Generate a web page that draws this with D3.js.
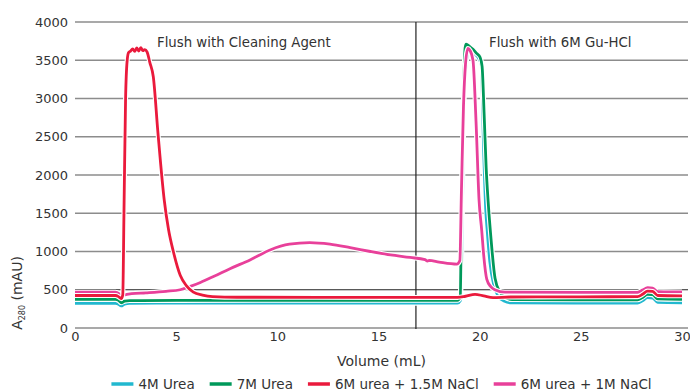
<!DOCTYPE html>
<html>
<head>
<meta charset="utf-8">
<script src="https://cdn.jsdelivr.net/npm/d3@7"></script>
<style>
  body { margin: 0; background: #fff; }
  text { font-family: "DejaVu Sans", Verdana, sans-serif; fill: #333; }
</style>
</head>
<body>
<div id="canvas"></div>
<script>
// ticks
const volumeTicks = [0, 5, 10, 15, 20, 25, 30];
const absTicks = [0, 500, 1000, 1500, 2000, 2500, 3000, 3500, 4000];

const seriesNames = ["4M Urea", "7M Urea", "6M urea + 1.5M NaCl", "6M urea + 1M NaCl"];
const seriesColors = ["#22b8cf", "#00995a", "#ea1a3c", "#e8409a"];

// volume where the buffer is switched
const switchVolume = 16.85;

// [volume mL, A280 mAU]
const urea4M = [
  [0, 323], [2.0, 323], [2.15, 312], [2.28, 288], [2.45, 312], [2.7, 322], [5, 326], [10, 325],
  [18.9, 325], [19.05, 360], [19.12, 1000], [19.22, 2900], [19.35, 3500], [19.48, 3634],
  [19.7, 3590], [19.9, 3545], [20.08, 3440], [20.2, 2300], [20.3, 1550], [20.38, 1250],
  [20.5, 870], [20.7, 560], [20.9, 425], [21.2, 352], [21.6, 328], [25, 325], [27.8, 325],
  [28.05, 355], [28.3, 396], [28.55, 392], [28.8, 335], [30, 330]
];
const urea7M = [
  [0, 375], [2.0, 373], [2.15, 362], [2.28, 330], [2.45, 350], [2.7, 358], [5, 360], [10, 362],
  [18.9, 362], [19.04, 400], [19.1, 1500], [19.2, 3000], [19.28, 3660], [19.33, 3712],
  [19.5, 3680], [19.67, 3643], [19.85, 3590], [20.02, 3539], [20.12, 3420], [20.22, 2800],
  [20.32, 2100], [20.42, 1650], [20.55, 1200], [20.76, 650], [21.0, 470], [21.3, 395],
  [21.6, 372], [25, 368], [27.8, 368], [28.05, 400], [28.3, 440], [28.55, 436], [28.8, 380], [30, 376]
];
const urea6MNaCl15 = [
  [0, 425], [2.0, 425], [2.15, 410], [2.28, 385], [2.36, 430], [2.42, 1500], [2.5, 3000],
  [2.58, 3500], [2.65, 3600], [2.75, 3620], [2.85, 3650], [2.95, 3615], [3.05, 3660],
  [3.15, 3620], [3.25, 3665], [3.35, 3625], [3.45, 3640], [3.56, 3610], [3.7, 3470],
  [3.87, 3285], [4.1, 2550], [4.41, 1673], [4.62, 1290], [4.86, 1000], [5.2, 690], [5.5, 555],
  [5.85, 470], [6.3, 430], [6.8, 410], [8, 402], [12, 401], [18.9, 400], [19.3, 415],
  [19.77, 440], [20.2, 420], [20.66, 398], [21.5, 405], [25, 408], [27.8, 409], [28.05, 440],
  [28.3, 483], [28.55, 478], [28.8, 425], [30, 420]
];
const urea6MNaCl1 = [
  [0, 468], [2.0, 468], [2.15, 452], [2.28, 408], [2.45, 432], [2.8, 448], [3.5, 460],
  [4.5, 480], [5.2, 500], [5.7, 545], [6.2, 595], [6.9, 680], [7.66, 775], [8.65, 890],
  [9.64, 1020], [10.6, 1095], [11.6, 1115], [12.6, 1095], [13.6, 1050], [14.6, 1000],
  [15.6, 955], [16.56, 922], [17.3, 893], [17.42, 876], [17.5, 884], [18.0, 862], [18.87, 835],
  [19.02, 880], [19.1, 1800], [19.2, 2900], [19.3, 3450], [19.42, 3655], [19.52, 3630],
  [19.67, 3500], [19.82, 2700], [19.97, 1670], [20.1, 1280], [20.2, 950], [20.35, 640],
  [20.55, 540], [20.75, 500], [21.25, 468], [25, 466], [27.8, 466], [28.05, 495], [28.3, 527],
  [28.55, 522], [28.8, 474], [30, 472]
];
const allSeries = [urea4M, urea7M, urea6MNaCl15, urea6MNaCl1];
const drawOrder = [0, 1, 3, 2];

const width = 690, height = 392;
const margin = { top: 22, right: 8, bottom: 64, left: 75 };

const x = d3.scaleLinear().domain([0, 30]).range([margin.left, 682]);
const y = d3.scaleLinear().domain([0, 4000]).range([height - margin.bottom, margin.top]);

const svg = d3.select("#canvas").append("svg")
  .attr("width", width)
  .attr("height", height);

// horizontal grid
svg.append("g")
  .selectAll("line")
  .data(absTicks)
  .enter()
  .append("line")
  .attr("x1", margin.left)
  .attr("x2", width - 2)
  .attr("y1", d => y(d))
  .attr("y2", d => y(d))
  .attr("stroke", d => d === 500 ? "#222" : "#8c8c8c")
  .attr("stroke-width", d => d === 500 ? 1 : 1.6);

// buffer switch marker
svg.append("line")
  .attr("x1", x(switchVolume)).attr("x2", x(switchVolume))
  .attr("y1", y(4000)).attr("y2", y(0) + 1)
  .attr("stroke", "#222")
  .attr("stroke-width", 1.2);

// axes
const yAxis = d3.axisLeft(y).tickValues(absTicks).tickFormat(d3.format("d")).tickSize(0).tickPadding(7);
svg.append("g")
  .attr("transform", "translate(" + margin.left + ",0)")
  .call(yAxis)
  .call(g => g.select(".domain").remove())
  .selectAll("text")
  .style("font-size", "13px")
  .attr("fill", "#333");

const xAxis = d3.axisBottom(x).tickValues(volumeTicks).tickFormat(d3.format("d")).tickSize(0).tickPadding(4);
svg.append("g")
  .attr("transform", "translate(0," + y(0) + ")")
  .call(xAxis)
  .call(g => g.select(".domain").remove())
  .selectAll("text")
  .style("font-size", "13px")
  .attr("fill", "#333");

// lines
const line = d3.line()
  .x(d => x(d[0]))
  .y(d => y(d[1]))
  .curve(d3.curveMonotoneX);

drawOrder.forEach(i => {
  svg.append("path")
    .datum(allSeries[i])
    .attr("d", line)
    .attr("fill", "none")
    .attr("stroke", "#fff")
    .attr("stroke-width", 5)
    .attr("stroke-linejoin", "round");
  svg.append("path")
    .datum(allSeries[i])
    .attr("d", line)
    .attr("fill", "none")
    .attr("stroke", seriesColors[i])
    .attr("stroke-width", 2.8)
    .attr("stroke-linejoin", "round");
});

// annotations
svg.append("text")
  .attr("x", 157).attr("y", 47)
  .style("font-size", "13.3px")
  .text("Flush with Cleaning Agent");
svg.append("text")
  .attr("x", 489).attr("y", 47)
  .style("font-size", "13.3px")
  .text("Flush with 6M Gu-HCl");

// axis titles
svg.append("text")
  .attr("x", (margin.left + 688) / 2)
  .attr("y", 366)
  .attr("text-anchor", "middle")
  .style("font-size", "14px")
  .text("Volume (mL)");

const yTitle = svg.append("text")
  .attr("transform", "translate(22,293) rotate(-90)")
  .attr("text-anchor", "middle")
  .style("font-size", "14px");
yTitle.append("tspan").text("A");
yTitle.append("tspan").attr("dy", 3).style("font-size", "8px").text("280");
yTitle.append("tspan").attr("dy", -3).text(" (mAU)");

// legend
const legend = svg.append("g");
let lx = 0;
seriesNames.forEach((name, i) => {
  const item = legend.append("g").attr("transform", "translate(" + lx + ",0)");
  item.append("line")
    .attr("x1", 0).attr("x2", 22)
    .attr("y1", 0).attr("y2", 0)
    .attr("stroke", seriesColors[i])
    .attr("stroke-width", 3.5);
  const t = item.append("text")
    .attr("x", 27).attr("y", 5)
    .style("font-size", "13.5px")
    .text(name);
  lx += 27 + t.node().getComputedTextLength() + 15;
});
const legendWidth = lx - 15;
legend.attr("transform", "translate(" + ((margin.left + 688) / 2 - legendWidth / 2) + ",384)");
</script>
</body>
</html>
